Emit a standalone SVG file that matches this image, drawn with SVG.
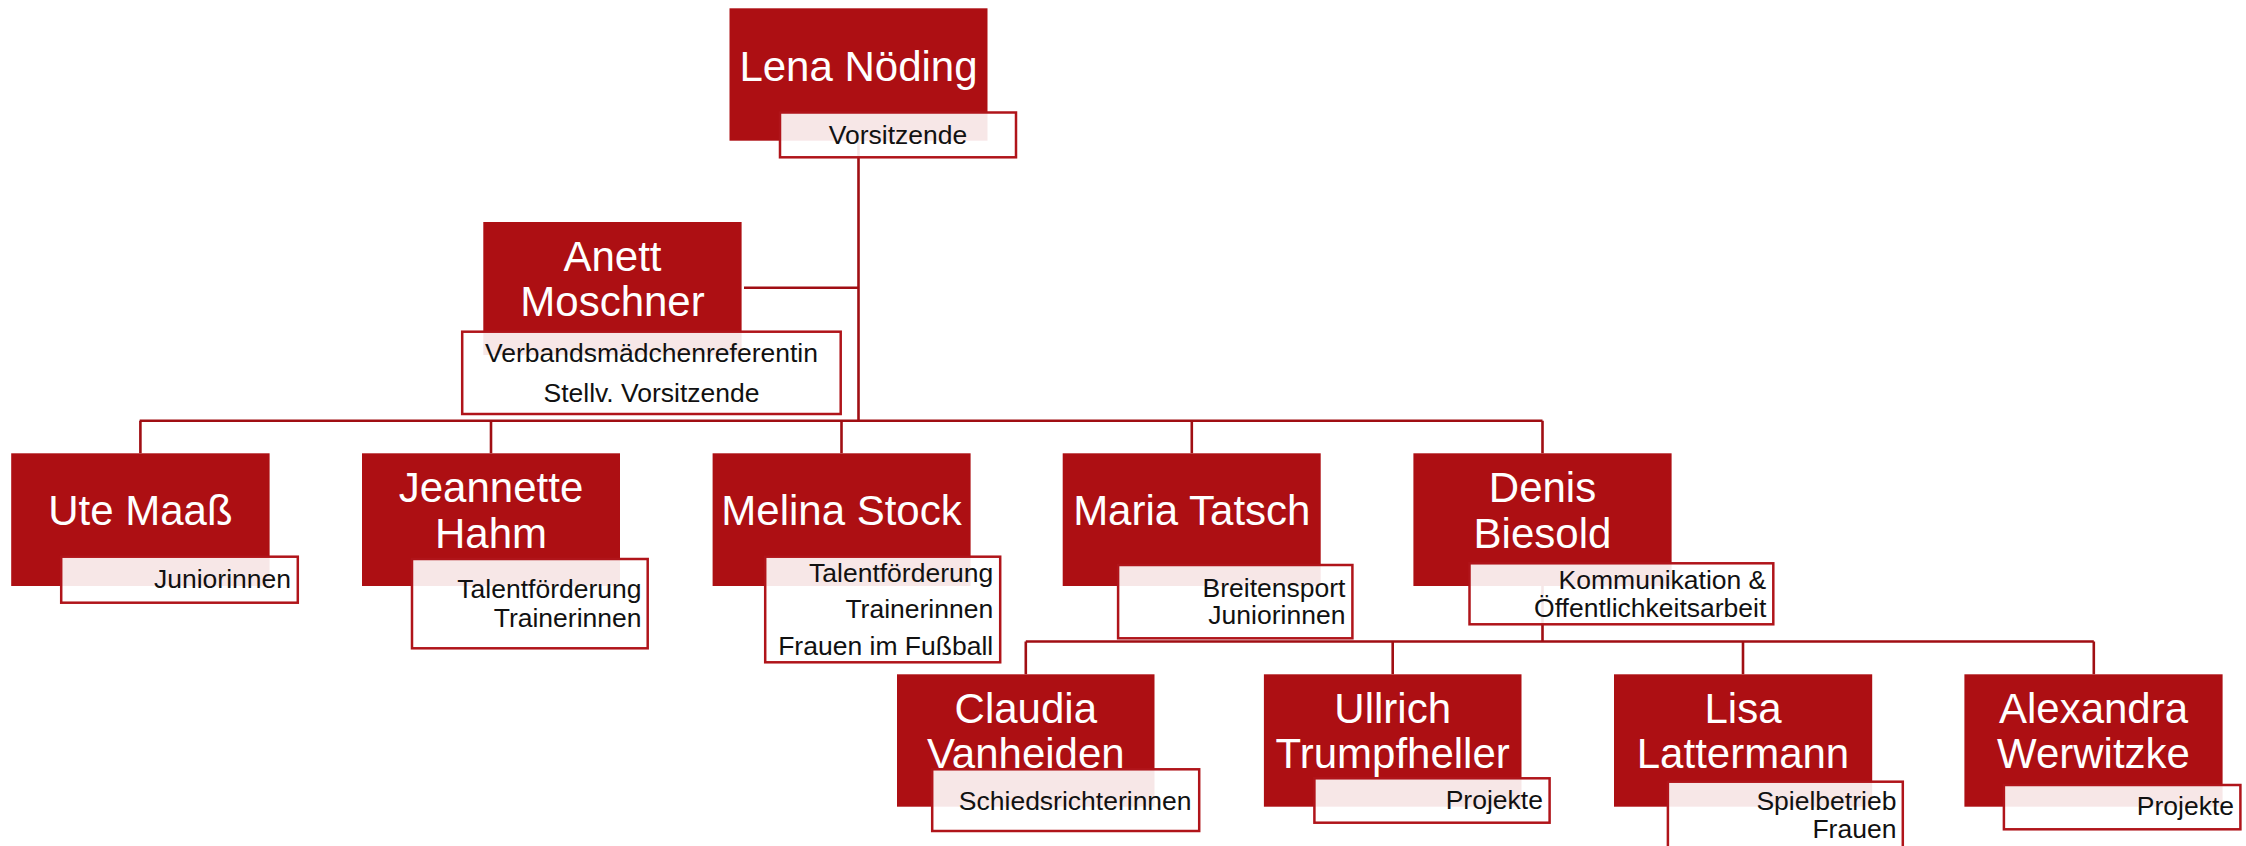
<svg xmlns="http://www.w3.org/2000/svg" width="2246" height="846" viewBox="0 0 2246 846">
<style>
.box{fill:#ad0f13}
.lbl{fill:#fff;fill-opacity:0.9;stroke:#b0141a;stroke-width:2.5}
.name{font-family:"Liberation Sans",Arial,sans-serif;font-size:42px;fill:#fff;text-anchor:middle}
.role{font-family:"Liberation Sans",Arial,sans-serif;font-size:26.5px;fill:#111;text-anchor:end}
.rc{text-anchor:middle}
.conn{stroke:#a00e13;stroke-width:2.6;fill:none}
</style>
<rect width="2246" height="846" fill="#fff"/>
<g id="connectors" class="conn">
<path d="M858.5 140V420.7"/>
<path d="M744 287.7H858.5"/>
<path d="M139.7 420.7H1542.5"/>
<path d="M140.4 420.7V453.3M491 420.7V453.3M841.5 420.7V453.3M1191.8 420.7V453.3M1542.5 420.7V453.3"/>
<path d="M1542.5 586V641.5"/>
<path d="M1025.8 641.5H2093.8"/>
<path d="M1025.8 641.5V674.3M1392.7 641.5V674.3M1743 641.5V674.3M2093.8 641.5V674.3"/>
</g>
<g id="lena">
<rect class="box" x="729.5" y="8.3" width="258" height="132.4"/>
<rect class="lbl" x="780" y="112.5" width="236" height="44.8"/>
<text class="name" x="858.5" y="81">Lena Nöding</text>
<text class="role rc" x="898" y="144">Vorsitzende</text>
</g>
<g id="anett">
<rect class="box" x="483.3" y="222" width="258.3" height="133"/>
<rect class="lbl" x="462.2" y="331.7" width="378.5" height="82.3"/>
<text class="name" x="612.5" y="270.7">Anett</text>
<text class="name" x="612.5" y="316">Moschner</text>
<text class="role rc" x="651.5" y="361.7">Verbandsmädchenreferentin</text>
<text class="role rc" x="651.5" y="401.7">Stellv. Vorsitzende</text>
</g>
<g id="ute">
<rect class="box" x="11.2" y="453.3" width="258.4" height="132.7"/>
<rect class="lbl" x="61.2" y="556.7" width="236.6" height="46"/>
<text class="name" x="140.4" y="525">Ute Maaß</text>
<text class="role" x="291" y="588.3">Juniorinnen</text>
</g>
<g id="jeannette">
<rect class="box" x="362" y="453.3" width="258" height="132.7"/>
<rect class="lbl" x="412" y="559" width="235.7" height="89.3"/>
<text class="name" x="491" y="501.7">Jeannette</text>
<text class="name" x="491" y="548.3">Hahm</text>
<text class="role" x="641.5" y="598.3">Talentförderung</text>
<text class="role" x="641.5" y="626.7">Trainerinnen</text>
</g>
<g id="melina">
<rect class="box" x="712.6" y="453.3" width="258" height="132.7"/>
<rect class="lbl" x="765.2" y="556.7" width="235" height="105.6"/>
<text class="name" x="841.5" y="525">Melina Stock</text>
<text class="role" x="993.2" y="581.7">Talentförderung</text>
<text class="role" x="993.2" y="618.3">Trainerinnen</text>
<text class="role" x="993.2" y="655">Frauen im Fußball</text>
</g>
<g id="maria">
<rect class="box" x="1062.7" y="453.3" width="258" height="132.7"/>
<rect class="lbl" x="1118.1" y="565" width="234.3" height="73.3"/>
<text class="name" x="1191.8" y="525">Maria Tatsch</text>
<text class="role" x="1345.4" y="596.7">Breitensport</text>
<text class="role" x="1345.4" y="624">Juniorinnen</text>
</g>
<g id="denis">
<rect class="box" x="1413.4" y="453.3" width="258.2" height="132.7"/>
<rect class="lbl" x="1469.5" y="563.3" width="303.8" height="61"/>
<text class="name" x="1542.5" y="501.7">Denis</text>
<text class="name" x="1542.5" y="548.3">Biesold</text>
<text class="role" x="1766.3" y="589">Kommunikation &amp;</text>
<text class="role" x="1766.3" y="617.3">Öffentlichkeitsarbeit</text>
</g>
<g id="claudia">
<rect class="box" x="897" y="674.3" width="257.5" height="132.4"/>
<rect class="lbl" x="932.2" y="769.3" width="267" height="61.7"/>
<text class="name" x="1025.8" y="723.3">Claudia</text>
<text class="name" x="1025.8" y="768.3">Vanheiden</text>
<text class="role" x="1191.6" y="810">Schiedsrichterinnen</text>
</g>
<g id="ullrich">
<rect class="box" x="1263.9" y="674.3" width="257.6" height="132.4"/>
<rect class="lbl" x="1314.4" y="778.3" width="235.2" height="44.4"/>
<text class="name" x="1392.7" y="723.3">Ullrich</text>
<text class="name" x="1392.7" y="768.3">Trumpfheller</text>
<text class="role" x="1542.9" y="809">Projekte</text>
</g>
<g id="lisa">
<rect class="box" x="1614" y="674.3" width="258.2" height="132.4"/>
<rect class="lbl" x="1667.9" y="781.7" width="234.9" height="90"/>
<text class="name" x="1743" y="723.3">Lisa</text>
<text class="name" x="1743" y="768.3">Lattermann</text>
<text class="role" x="1896.4" y="810">Spielbetrieb</text>
<text class="role" x="1896.4" y="838.3">Frauen</text>
</g>
<g id="alexandra">
<rect class="box" x="1964.4" y="674.3" width="258.2" height="132.4"/>
<rect class="lbl" x="2003.9" y="785" width="236.5" height="44.3"/>
<text class="name" x="2093.5" y="723.3">Alexandra</text>
<text class="name" x="2093.5" y="768.3">Werwitzke</text>
<text class="role" x="2234" y="815">Projekte</text>
</g>
</svg>
